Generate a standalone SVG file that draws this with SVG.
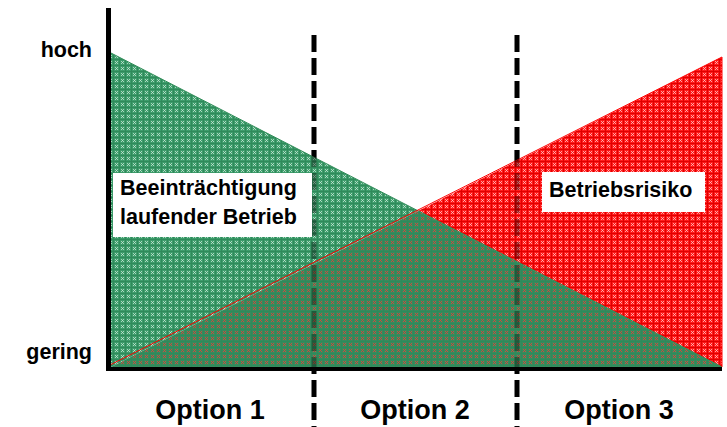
<svg xmlns="http://www.w3.org/2000/svg" width="727" height="427" viewBox="0 0 727 427">
<style>
.lbl{font-family:"Liberation Sans",Arial,sans-serif;font-weight:bold;fill:#000}
.ax{font-size:21.5px}
.opt{font-size:27px}
.dash{stroke:#000;stroke-width:5;stroke-dasharray:17,6;fill:none}
</style>
<defs>
<pattern id="pg" width="6" height="6" patternUnits="userSpaceOnUse">
<rect width="6" height="6" fill="#3d9c6b"/>
<path d="M1,1 L4,4 M4,1 L1,4" stroke="#c4e6d2" stroke-width="0.8"/>
<path d="M0,5.5 H6 M5.5,0 V6" stroke="#2f8a5a" stroke-width="1"/>
</pattern>
<pattern id="pr" width="6" height="6" patternUnits="userSpaceOnUse">
<rect width="6" height="6" fill="#ff1a1a"/>
<path d="M1,1 L4,4 M4,1 L1,4" stroke="#ffc0c0" stroke-width="0.8"/>
<path d="M0,5.5 H6 M5.5,0 V6" stroke="#e00000" stroke-width="1"/>
</pattern>
<pattern id="po" width="6" height="6" patternUnits="userSpaceOnUse">
<rect width="6" height="6" fill="#378a5e"/>
<path d="M1,1 L4,4 M4,1 L1,4" stroke="#d9463a" stroke-width="0.9"/>
<path d="M0,5.5 H6 M5.5,0 V6" stroke="#2f8a5a" stroke-width="1"/>
</pattern>
</defs>
<g id="dividers">
<line class="dash" x1="314" y1="35" x2="314" y2="427"/>
<line class="dash" x1="517" y1="35" x2="517" y2="427"/>
</g>
<g id="area-green">
<polygon points="111,53 111,367 418,211" fill="url(#pg)"/>
</g>
<g id="area-red">
<polygon points="722,57 722,367 418,211" fill="url(#pr)"/>
</g>
<g id="area-overlap">
<polygon points="111,367 418,211 722,367" fill="url(#po)"/>
</g>
<g id="edges" fill="none" stroke-width="1">
<line x1="111" y1="53" x2="722" y2="367" stroke="#2e8b57"/>
<line x1="106" y1="367" x2="722" y2="57" stroke="#ff0000"/>
<line x1="722" y1="57" x2="722" y2="367" stroke="#ff0000"/>
</g>
<g id="dividers-through" opacity="0.35">
<line class="dash" x1="314" y1="150" x2="314" y2="367" stroke-width="2"/>
<line class="dash" x1="517" y1="150" x2="517" y2="367" stroke-width="2"/>
</g>
<g id="axes">
<line x1="108.5" y1="8" x2="108.5" y2="371" stroke="#000" stroke-width="5"/>
<line x1="106" y1="369" x2="722" y2="369" stroke="#000" stroke-width="4"/>
</g>
<g id="y-labels">
<text class="lbl ax" x="92" y="57" text-anchor="end">hoch</text>
<text class="lbl ax" x="92" y="359" text-anchor="end">gering</text>
</g>
<g id="label-beeintraechtigung">
<rect x="113" y="173" width="199" height="64" fill="#fff"/>
<text class="lbl ax" x="120" y="195">Beeinträchtigung</text>
<text class="lbl ax" x="120" y="224">laufender Betrieb</text>
</g>
<g id="label-betriebsrisiko">
<rect x="542" y="172" width="163" height="40" fill="#fff"/>
<text class="lbl ax" x="549" y="197">Betriebsrisiko</text>
</g>
<g id="x-labels">
<text class="lbl opt" x="210" y="419" text-anchor="middle">Option 1</text>
<text class="lbl opt" x="415" y="419" text-anchor="middle">Option 2</text>
<text class="lbl opt" x="619" y="419" text-anchor="middle">Option 3</text>
</g>
</svg>
